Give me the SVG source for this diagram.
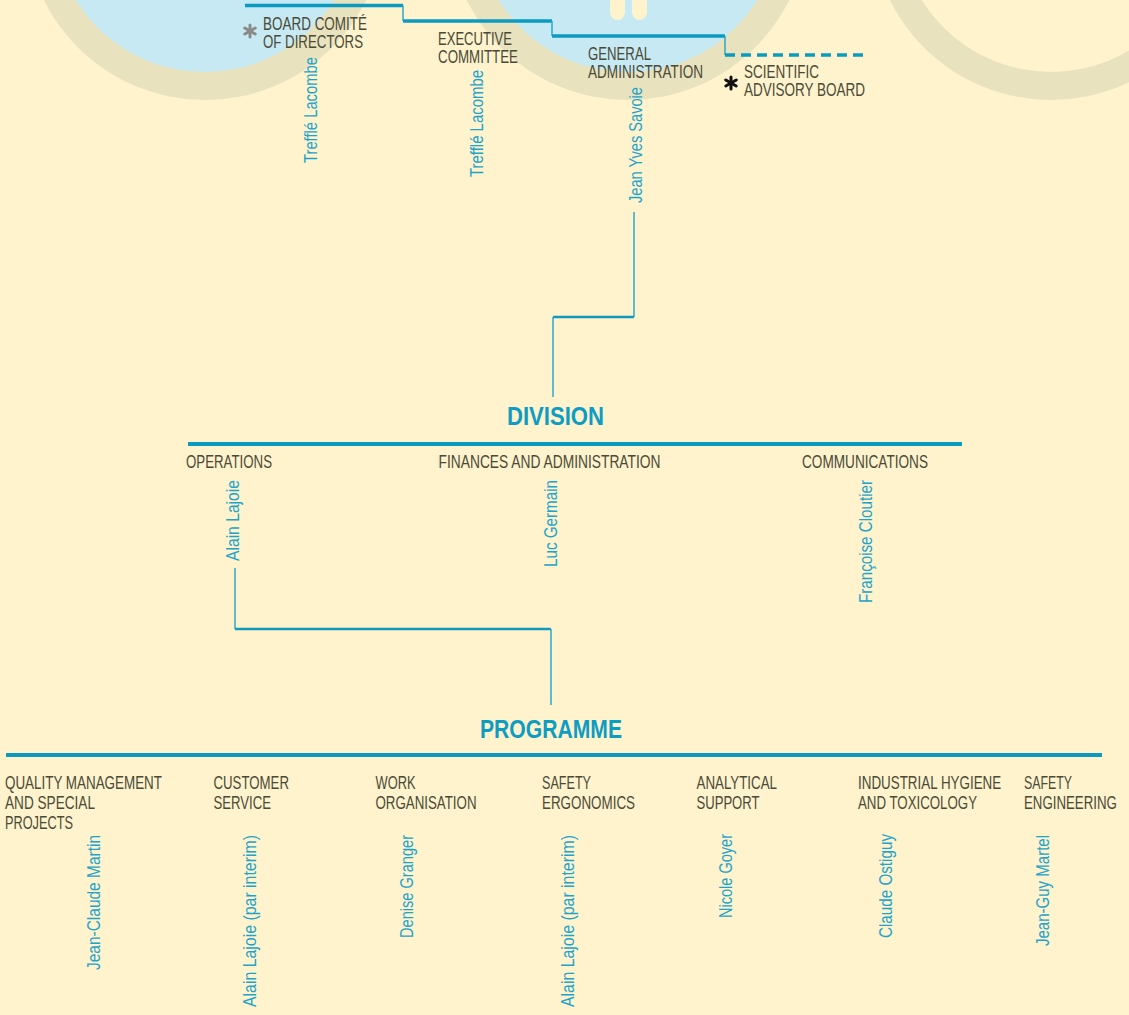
<svg xmlns="http://www.w3.org/2000/svg" width="1129" height="1015" viewBox="0 0 1129 1015">
<defs>
<style>
.lbl{font-family:"Liberation Sans",Arial,sans-serif;font-size:17.5px;fill:#4b4a36;}
.nm{font-family:"Liberation Sans",Arial,sans-serif;font-size:18px;fill:#1ea3cb;}
.ttl{font-family:"Liberation Sans",Arial,sans-serif;font-size:25px;font-weight:bold;fill:#0e9cc3;}
.ring{fill:#e8e2bf;}
.thick{stroke:#0b9ac0;stroke-width:3.5;fill:none;}
.thin{stroke:#2aa8cc;stroke-width:1.5;fill:none;}
.mid{stroke:#1199c0;stroke-width:2.5;fill:none;}
.big{stroke:#0b9ac0;stroke-width:4;fill:none;}
.ast{stroke-width:3;stroke-linecap:round;}
</style>
</defs>
<rect x="0" y="0" width="1129" height="1015" fill="#fef3cd"/>
<g id="background">
<circle class="ring" cx="205" cy="-80" r="180"/>
<circle cx="205" cy="-80" r="152" fill="#c6e9f4"/>
<circle class="ring" cx="628" cy="-80" r="180"/>
<circle cx="628" cy="-80" r="152" fill="#c6e9f4"/>
<rect x="610" y="-20" width="15" height="40" rx="7.5" fill="#fef3cd"/>
<rect x="632" y="-20" width="15" height="40" rx="7.5" fill="#fef3cd"/>
<circle class="ring" cx="1051" cy="-80" r="180"/>
<circle cx="1051" cy="-80" r="152" fill="#fef3cd"/>
</g>
<g id="connectors">
<path class="thick" d="M245 5.5 H403"/>
<path class="thin" d="M403 5.5 V21"/>
<path class="thick" d="M403 21 H552"/>
<path class="thin" d="M552 21 V36"/>
<path class="thick" d="M552 36 H725"/>
<path class="thin" d="M725 36 V55"/>
<path class="thick" d="M725 55 H868" stroke-dasharray="10 6"/>
<path class="thin" d="M634 212 V317"/>
<path class="mid" d="M634 317 H553"/>
<path class="thin" d="M553 317 V397"/>
<path class="big" d="M188 444 H962"/>
<path class="thin" d="M235 568 V629"/>
<path class="mid" d="M235 629 H551"/>
<path class="thin" d="M551 629 V705"/>
<path class="big" d="M6 755 H1102"/>
</g>
<g id="board">
<g class="ast" stroke="#8a8a8a" transform="translate(250,31)">
<line x1="0" y1="-6" x2="0" y2="6"/><line x1="-5.2" y1="-3" x2="5.2" y2="3"/><line x1="-5.2" y1="3" x2="5.2" y2="-3"/>
</g>
<text class="lbl" x="263" y="29.5" textLength="104" lengthAdjust="spacingAndGlyphs">BOARD COMITÉ</text>
<text class="lbl" x="263" y="47.5" textLength="100" lengthAdjust="spacingAndGlyphs">OF DIRECTORS</text>
<text class="nm" transform="translate(317,163) rotate(-90)" textLength="106" lengthAdjust="spacingAndGlyphs">Trefflé Lacombe</text>
</g>
<g id="executive">
<text class="lbl" x="438" y="45" textLength="74" lengthAdjust="spacingAndGlyphs">EXECUTIVE</text>
<text class="lbl" x="438" y="63" textLength="80" lengthAdjust="spacingAndGlyphs">COMMITTEE</text>
<text class="nm" transform="translate(483,177) rotate(-90)" textLength="107" lengthAdjust="spacingAndGlyphs">Trefflé Lacombe</text>
</g>
<g id="general">
<text class="lbl" x="588" y="60" textLength="63" lengthAdjust="spacingAndGlyphs">GENERAL</text>
<text class="lbl" x="588" y="78" textLength="115" lengthAdjust="spacingAndGlyphs">ADMINISTRATION</text>
<text class="nm" transform="translate(642,203) rotate(-90)" textLength="116" lengthAdjust="spacingAndGlyphs">Jean Yves Savoie</text>
</g>
<g id="scientific">
<g class="ast" stroke="#111" transform="translate(731,83)">
<line x1="0" y1="-6" x2="0" y2="6"/><line x1="-5.2" y1="-3" x2="5.2" y2="3"/><line x1="-5.2" y1="3" x2="5.2" y2="-3"/>
</g>
<text class="lbl" x="744" y="78" textLength="75" lengthAdjust="spacingAndGlyphs">SCIENTIFIC</text>
<text class="lbl" x="744" y="96" textLength="121" lengthAdjust="spacingAndGlyphs">ADVISORY BOARD</text>
</g>
<g id="division">
<text class="ttl" x="507" y="425" textLength="97" lengthAdjust="spacingAndGlyphs">DIVISION</text>
</g>
<g id="operations">
<text class="lbl" x="186" y="468" textLength="86" lengthAdjust="spacingAndGlyphs">OPERATIONS</text>
<text class="nm" transform="translate(239,561) rotate(-90)" textLength="81" lengthAdjust="spacingAndGlyphs">Alain Lajoie</text>
</g>
<g id="finances">
<text class="lbl" x="438.5" y="468" textLength="222" lengthAdjust="spacingAndGlyphs">FINANCES AND ADMINISTRATION</text>
<text class="nm" transform="translate(557,567) rotate(-90)" textLength="87" lengthAdjust="spacingAndGlyphs">Luc Germain</text>
</g>
<g id="communications">
<text class="lbl" x="802" y="468" textLength="126" lengthAdjust="spacingAndGlyphs">COMMUNICATIONS</text>
<text class="nm" transform="translate(872,603) rotate(-90)" textLength="123" lengthAdjust="spacingAndGlyphs">Françoise Cloutier</text>
</g>
<g id="programme">
<text class="ttl" x="480" y="738" textLength="142" lengthAdjust="spacingAndGlyphs">PROGRAMME</text>
</g>
<g id="quality">
<text class="lbl" x="5" y="789" textLength="157" lengthAdjust="spacingAndGlyphs">QUALITY MANAGEMENT</text>
<text class="lbl" x="5" y="809" textLength="90" lengthAdjust="spacingAndGlyphs">AND SPECIAL</text>
<text class="lbl" x="5" y="829" textLength="68" lengthAdjust="spacingAndGlyphs">PROJECTS</text>
<text class="nm" transform="translate(100,970) rotate(-90)" textLength="135" lengthAdjust="spacingAndGlyphs">Jean-Claude Martin</text>
</g>
<g id="customer">
<text class="lbl" x="213.5" y="789" textLength="75.5" lengthAdjust="spacingAndGlyphs">CUSTOMER</text>
<text class="lbl" x="213.5" y="809" textLength="57.5" lengthAdjust="spacingAndGlyphs">SERVICE</text>
<text class="nm" transform="translate(256,1007) rotate(-90)" textLength="172" lengthAdjust="spacingAndGlyphs">Alain Lajoie (par interim)</text>
</g>
<g id="work">
<text class="lbl" x="375.5" y="789" textLength="40" lengthAdjust="spacingAndGlyphs">WORK</text>
<text class="lbl" x="375.5" y="809" textLength="101" lengthAdjust="spacingAndGlyphs">ORGANISATION</text>
<text class="nm" transform="translate(413,938) rotate(-90)" textLength="103" lengthAdjust="spacingAndGlyphs">Denise Granger</text>
</g>
<g id="ergonomics">
<text class="lbl" x="542" y="789" textLength="49" lengthAdjust="spacingAndGlyphs">SAFETY</text>
<text class="lbl" x="542" y="809" textLength="93" lengthAdjust="spacingAndGlyphs">ERGONOMICS</text>
<text class="nm" transform="translate(574,1007) rotate(-90)" textLength="172" lengthAdjust="spacingAndGlyphs">Alain Lajoie (par interim)</text>
</g>
<g id="analytical">
<text class="lbl" x="696.5" y="789" textLength="80.5" lengthAdjust="spacingAndGlyphs">ANALYTICAL</text>
<text class="lbl" x="696.5" y="809" textLength="63" lengthAdjust="spacingAndGlyphs">SUPPORT</text>
<text class="nm" transform="translate(732,918) rotate(-90)" textLength="84" lengthAdjust="spacingAndGlyphs">Nicole Goyer</text>
</g>
<g id="hygiene">
<text class="lbl" transform="translate(858,789) scale(0.8,1)" textLength="179" lengthAdjust="spacingAndGlyphs">INDUSTRIAL HYGIENE</text>
<text class="lbl" x="858" y="809" textLength="119" lengthAdjust="spacingAndGlyphs">AND TOXICOLOGY</text>
<text class="nm" transform="translate(892,938) rotate(-90)" textLength="104" lengthAdjust="spacingAndGlyphs">Claude Ostiguy</text>
</g>
<g id="engineering">
<text class="lbl" x="1024" y="789" textLength="48" lengthAdjust="spacingAndGlyphs">SAFETY</text>
<text class="lbl" transform="translate(1024,809) scale(0.8,1)" textLength="116" lengthAdjust="spacingAndGlyphs">ENGINEERING</text>
<text class="nm" transform="translate(1049,946) rotate(-90)" textLength="111" lengthAdjust="spacingAndGlyphs">Jean-Guy Martel</text>
</g>
</svg>
